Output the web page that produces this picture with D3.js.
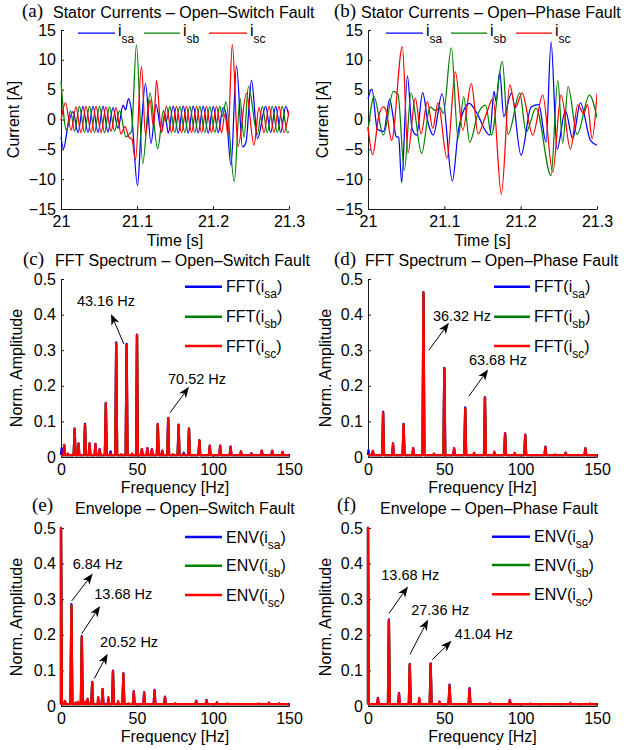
<!DOCTYPE html>
<html>
<head>
<meta charset="utf-8">
<script src="https://cdn.jsdelivr.net/npm/d3@7"></script>
<style>
  body { margin: 0; background: #fff; }
  svg { display: block; background: #fff; }
</style>
</head>
<body>
<svg id="fig" width="624" height="750"></svg>
<script>
// ---------------- tick values ----------------
const timeTicks = [21, 21.1, 21.2, 21.3];
const currentTicks = [-15, -10, -5, 0, 5, 10, 15];
const freqTicks = [0, 50, 100, 150];
const ampTicks = [0, 0.1, 0.2, 0.3, 0.4, 0.5];

// ---------------- stator currents, open-switch fault [t (s), i (A)] ----------------
const switchIsa = [[21.0000,-2.9],[21.0033,-4.9],[21.0092,-1.0],[21.0158,1.3],[21.0224,-2.2],[21.0289,2.2],[21.0355,-2.2],[21.0421,2.2],[21.0487,-2.2],[21.0553,2.2],[21.0618,-2.1],[21.0684,2.0],[21.0750,-1.5],[21.0816,2.4],[21.0849,1.6],[21.0888,3.5],[21.0921,2.0],[21.1007,-11.1],[21.1053,-2.0],[21.1112,6.0],[21.1184,-4.0],[21.1250,2.5],[21.1322,-2.0],[21.1368,1.0],[21.1411,-2.3],[21.1476,2.3],[21.1542,-2.3],[21.1608,2.3],[21.1674,-2.3],[21.1739,2.3],[21.1805,-2.3],[21.1871,2.3],[21.1937,-2.3],[21.2003,2.2],[21.2068,-2.2],[21.2134,2.0],[21.2171,1.0],[21.2237,-7.7],[21.2309,9.0],[21.2388,-4.6],[21.2434,-3.8],[21.2507,6.6],[21.2586,-3.2],[21.2693,2.2],[21.2759,-2.2],[21.2825,2.2],[21.2891,-2.2],[21.2957,2.2],[21.3000,0.5]];
const switchIsb = [[21.0000,6.4],[21.0072,-1.8],[21.0125,1.5],[21.0178,-2.0],[21.0243,2.2],[21.0309,-2.2],[21.0375,2.2],[21.0441,-2.2],[21.0507,2.2],[21.0572,-2.2],[21.0638,2.1],[21.0704,-2.0],[21.0770,1.5],[21.0855,-2.9],[21.0901,-2.4],[21.0928,-2.0],[21.0993,12.5],[21.1075,-7.4],[21.1171,4.4],[21.1272,-4.9],[21.1349,1.5],[21.1382,-0.5],[21.1432,2.2],[21.1497,-2.2],[21.1563,2.2],[21.1629,-2.2],[21.1695,2.2],[21.1761,-2.2],[21.1826,2.2],[21.1892,-2.2],[21.1958,2.2],[21.2024,-2.2],[21.2089,2.2],[21.2125,0.5],[21.2171,3.0],[21.2280,-10.4],[21.2355,3.6],[21.2408,-3.0],[21.2467,5.6],[21.2583,-2.5],[21.2649,2.2],[21.2714,-2.2],[21.2780,2.2],[21.2846,-2.2],[21.2912,2.2],[21.2978,-2.2],[21.3000,-2.0]];
const switchIsc = [[21.0000,-0.2],[21.0059,2.8],[21.0132,-1.8],[21.0197,2.1],[21.0263,-2.2],[21.0329,2.2],[21.0395,-2.2],[21.0461,2.2],[21.0526,-2.2],[21.0592,2.1],[21.0658,-2.0],[21.0724,2.0],[21.0789,-2.4],[21.0842,-1.2],[21.0895,-3.0],[21.0934,-3.3],[21.0980,-6.8],[21.1059,8.9],[21.1112,-2.6],[21.1171,3.3],[21.1217,-1.2],[21.1257,6.5],[21.1322,-2.2],[21.1388,2.2],[21.1454,-2.2],[21.1520,2.2],[21.1586,-2.2],[21.1651,2.2],[21.1717,-2.2],[21.1783,2.2],[21.1849,-2.2],[21.1914,2.2],[21.1980,-2.2],[21.2046,2.2],[21.2112,-2.2],[21.2158,1.0],[21.2197,-2.6],[21.2254,12.6],[21.2329,-4.5],[21.2441,4.4],[21.2539,-4.3],[21.2605,2.0],[21.2671,-2.2],[21.2737,2.2],[21.2803,-2.2],[21.2868,2.2],[21.2934,-2.2],[21.3000,1.5]];

// ---------------- stator currents, open-phase fault [t (s), i (A)] ----------------
const phaseIsa = [[21.0000,3.5],[21.0052,5.1],[21.0122,-1.6],[21.0205,-2.0],[21.0284,3.4],[21.0328,0.5],[21.0367,-2.8],[21.0402,-3.0],[21.0441,-10.6],[21.0516,7.3],[21.0577,-1.5],[21.0638,-2.6],[21.0716,4.5],[21.0786,-0.5],[21.0856,-2.6],[21.0970,4.3],[21.1105,-10.3],[21.1188,-1.5],[21.1328,2.7],[21.1407,1.5],[21.1595,-2.6],[21.1651,4.7],[21.1678,3.0],[21.1726,8.0],[21.1778,0.5],[21.1879,4.4],[21.2005,-6.0],[21.2136,2.1],[21.2237,2.5],[21.2333,-3.8],[21.2398,13.0],[21.2477,-5.0],[21.2586,1.5],[21.2682,-3.2],[21.2783,2.8],[21.2914,-3.5],[21.3000,-4.3]];
const phaseIsb = [[21.0000,-2.0],[21.0079,3.8],[21.0201,-2.6],[21.0332,4.7],[21.0393,4.2],[21.0476,-8.5],[21.0564,4.4],[21.0703,-5.7],[21.0813,2.1],[21.0882,1.5],[21.0944,2.0],[21.0987,1.0],[21.1092,12.0],[21.1180,-3.2],[21.1254,3.8],[21.1332,-3.8],[21.1442,1.0],[21.1542,2.4],[21.1616,-2.6],[21.1761,9.7],[21.1835,-2.5],[21.1988,4.4],[21.2071,-2.1],[21.2202,1.9],[21.2398,-9.4],[21.2486,6.5],[21.2551,-4.0],[21.2621,5.5],[21.2739,-2.5],[21.2901,4.1],[21.3000,0.3]];
const phaseIsc = [[21.0000,-1.2],[21.0061,-5.9],[21.0140,0.5],[21.0201,2.1],[21.0236,1.5],[21.0310,-3.5],[21.0450,12.2],[21.0524,-5.6],[21.0620,3.6],[21.0695,-2.4],[21.0778,3.0],[21.0848,-1.5],[21.0917,2.8],[21.1035,-6.5],[21.1145,8.0],[21.1241,-1.8],[21.1354,6.0],[21.1442,-2.4],[21.1538,0.5],[21.1638,3.5],[21.1747,-12.5],[21.1857,5.8],[21.1931,2.0],[21.2018,4.4],[21.2158,-2.6],[21.2289,4.1],[21.2420,-8.8],[21.2529,4.1],[21.2652,-5.0],[21.2748,2.4],[21.2827,1.0],[21.2875,2.5],[21.2936,-3.2],[21.3000,4.3]];

// ---------------- FFT spectra, open-switch fault [f (Hz), normalised amplitude] ----------------
const fftSwitchSa = [[0.4,0.024],[2.12,0.034],[8.96,0.080],[11.5,0.038],[15.8,0.093],[18.8,0.038],[22.64,0.037],[25.4,0.022],[29.48,0.152],[32.6,0.016],[36.32,0.322],[43.16,0.318],[50.0,0.344],[53.2,0.022],[56.84,0.025],[59.8,0.022],[63.68,0.093],[66.6,0.018],[70.52,0.110],[77.36,0.091],[80.8,0.012],[84.2,0.080],[91.04,0.047],[97.88,0.032],[104.72,0.032],[111.56,0.029],[118.4,0.016],[125.24,0.011],[132.08,0.018],[138.92,0.018],[145.76,0.014]];
const fftSwitchSb = [[8.96,0.077],[15.8,0.089],[29.48,0.150],[36.32,0.318],[43.16,0.314],[50.0,0.342],[63.68,0.091],[70.52,0.108],[77.36,0.089],[84.2,0.078],[91.04,0.045]];
const fftSwitchSc = [[2.12,0.034],[4.5,0.010],[8.96,0.078],[11.5,0.038],[15.8,0.090],[18.8,0.038],[22.64,0.037],[25.4,0.022],[29.48,0.151],[32.6,0.010],[36.32,0.319],[39.6,0.008],[43.16,0.315],[46.6,0.010],[50.0,0.343],[53.2,0.022],[56.84,0.025],[59.8,0.022],[63.68,0.092],[66.6,0.018],[70.52,0.109],[73.6,0.008],[77.36,0.090],[80.8,0.008],[84.2,0.079],[87.5,0.006],[91.04,0.046],[97.88,0.032],[104.72,0.032],[111.56,0.029],[118.4,0.015],[125.24,0.010],[132.08,0.018],[138.92,0.018],[145.76,0.014]];

// ---------------- FFT spectra, open-phase fault ----------------
const fftPhaseSa = [[0.3,0.019],[3.2,0.017],[9.9,0.127],[16.4,0.038],[23.3,0.093],[29.6,0.025],[36.32,0.463],[50.0,0.250],[56.4,0.025],[63.68,0.139],[76.6,0.168],[89.8,0.067],[103.0,0.063],[116.2,0.029],[129.5,0.012],[142.4,0.025]];
const fftPhaseSb = [[9.9,0.122],[23.3,0.089],[36.32,0.460],[50.0,0.247],[63.68,0.134],[76.6,0.165],[89.8,0.064],[103.0,0.060]];
const fftPhaseSc = [[0.5,0.006],[3.2,0.017],[9.9,0.124],[16.4,0.038],[23.3,0.091],[29.6,0.025],[36.32,0.462],[43.2,0.010],[50.0,0.249],[56.4,0.025],[63.68,0.136],[69.5,0.012],[76.6,0.167],[82.8,0.015],[89.8,0.066],[96.1,0.012],[103.0,0.062],[109.5,0.005],[116.2,0.028],[122.6,0.007],[129.5,0.012],[136.0,0.005],[142.4,0.024],[148.6,0.004]];

// ---------------- envelope spectra, open-switch fault ----------------
const envSwitchSa = [[0,0.5],[2.6,0.014],[6.84,0.286],[13.68,0.196],[17.5,0.020],[20.52,0.068],[27.36,0.048],[34.2,0.099],[41.04,0.092],[47.88,0.042],[54.72,0.039],[61.56,0.045],[68.4,0.026],[88.92,0.015],[95.76,0.017]];
const envSwitchSb = [[0,0.5],[6.84,0.280],[13.68,0.192],[20.52,0.065],[34.2,0.096],[41.04,0.089]];
const envSwitchSc = [[0,0.5],[2.6,0.014],[6.84,0.283],[9.5,0.010],[11.2,0.012],[13.68,0.194],[16.0,0.012],[17.5,0.020],[20.52,0.067],[24.5,0.025],[27.36,0.047],[31.2,0.025],[34.2,0.098],[37.6,0.014],[41.04,0.091],[44.5,0.008],[47.88,0.041],[54.72,0.037],[61.56,0.044],[68.4,0.025],[75.24,0.008],[82.08,0.006],[88.92,0.014],[95.76,0.016],[102.6,0.011],[109.44,0.007],[116.28,0.006],[123.12,0.005],[129.96,0.007],[136.8,0.010],[143.64,0.008]];

// ---------------- envelope spectra, open-phase fault ----------------
const envPhaseSa = [[0,0.5],[6.5,0.023],[13.68,0.243],[20.3,0.037],[27.36,0.118],[41.04,0.120],[53.4,0.060],[66.5,0.050],[92.9,0.017]];
const envPhaseSb = [[0,0.5],[13.68,0.239],[27.36,0.115],[41.04,0.117],[53.4,0.056]];
const envPhaseSc = [[0,0.5],[6.5,0.021],[13.68,0.241],[20.3,0.035],[27.36,0.117],[33.6,0.023],[41.04,0.119],[46.8,0.013],[53.4,0.058],[60.0,0.006],[66.5,0.049],[73.0,0.005],[79.8,0.009],[86.3,0.005],[92.9,0.016],[99.5,0.004],[106.4,0.007],[113.0,0.004],[119.5,0.005],[126.0,0.004],[132.5,0.009],[139.0,0.004],[145.6,0.007]];

// noise floor of the spectra
const spectrumFloor = 0.005;

// annotations: [label, text f, text amp, arrow tail f, tail amp, arrow head f, head amp]
const switchFftNotes = [["43.16 Hz",10.5,0.425,41.4,0.317,32.9,0.402],["70.52 Hz",70.4,0.205,71.7,0.124,84.2,0.197]];
const phaseFftNotes  = [["36.32 Hz",42.5,0.382,39.9,0.300,53.0,0.377],["63.68 Hz",66.1,0.258,66.1,0.171,78.7,0.246]];
const switchEnvNotes = [["6.84 Hz",7.7,0.386,7.0,0.295,20.9,0.372],["13.68 Hz",21.9,0.300,13.6,0.203,25.7,0.281],["20.52 Hz",25.7,0.166,21.9,0.077,30.7,0.147]];
const phaseEnvNotes  = [["13.68 Hz",8.7,0.353,13.7,0.260,26.2,0.336],["27.36 Hz",28.3,0.257,27.5,0.145,39.4,0.243],["41.04 Hz",56.9,0.189,42.1,0.130,54.7,0.183]];

const phaseSubs = ["sa", "sb", "sc"];

// ---------------- styling ----------------
const SANS = "'Liberation Sans', Arial, Helvetica, sans-serif";
const SERIF = "'Liberation Serif', 'Times New Roman', serif";
const COLORS = ["#0000ff", "#008000", "#ff0000"];
const FS = 16;

const svg = d3.select("#fig");
const LEFT = [61, 289], RIGHT = [368, 597];
const ROW1 = [30, 209], ROW2 = [279, 457], ROW3 = [528, 706];
const fmt = d3.format("~g");
let clipCount = 0;

function frame(cols, rows, xDomain, yDomain, xTicks, yTicks) {
  const g = svg.append("g");
  const x = d3.scaleLinear().domain(xDomain).range(cols);
  const y = d3.scaleLinear().domain(yDomain).range([rows[1], rows[0]]);
  const xa = d3.axisBottom(x).tickValues(xTicks).tickFormat(fmt)
    .tickSizeInner(-3).tickSizeOuter(0).tickPadding(7);
  const ya = d3.axisLeft(y).tickValues(yTicks).tickFormat(fmt)
    .tickSizeInner(-3).tickSizeOuter(0).tickPadding(5);
  const gx = g.append("g").attr("transform", `translate(0,${rows[1]})`).call(xa);
  const gy = g.append("g").attr("transform", `translate(${cols[0]},0)`).call(ya);
  [gx, gy].forEach(a => {
    a.attr("font-size", null).attr("font-family", null);
    a.selectAll("text").attr("font-size", FS).attr("font-family", SANS).attr("fill", "#000");
    a.select(".domain").attr("stroke", "#1a1a1a").attr("stroke-width", 1);
    a.selectAll(".tick line").attr("stroke", "#1a1a1a");
  });
  const id = "clip" + (clipCount++);
  svg.append("clipPath").attr("id", id).append("rect")
    .attr("x", cols[0] - 2).attr("y", rows[0] - 2)
    .attr("width", cols[1] - cols[0] + 2).attr("height", rows[1] - rows[0] + 4);
  const plot = g.append("g").attr("clip-path", `url(#${id})`);
  return { g, x, y, plot };
}

function heading(letter, lx, ly, title, tx, ty) {
  svg.append("text").attr("x", lx).attr("y", ly).attr("font-family", SERIF)
    .attr("font-size", 19).text(letter);
  svg.append("text").attr("x", tx).attr("y", ty).attr("font-family", SANS)
    .attr("font-size", FS).text(title);
}

function xLabel(cols, y, label) {
  svg.append("text").attr("x", (cols[0] + cols[1]) / 2).attr("y", y)
    .attr("text-anchor", "middle").attr("font-family", SANS).attr("font-size", FS).text(label);
}

function yLabel(x, rows, label) {
  svg.append("text").attr("transform", `translate(${x},${(rows[0] + rows[1]) / 2}) rotate(-90)`)
    .attr("text-anchor", "middle").attr("font-family", SANS).attr("font-size", FS).text(label);
}

function timeSeries(p, series) {
  const line = d3.line().x(d => p.x(d[0])).y(d => p.y(d[1])).curve(d3.curveMonotoneX);
  series.forEach((s, i) => {
    p.plot.append("path").attr("d", line(s)).attr("fill", "none")
      .attr("stroke", COLORS[i]).attr("stroke-width", 1.25).attr("stroke-linejoin", "round");
  });
}

function spectrum(p, series, fmax) {
  const hw = 0.6;
  const line = d3.line().x(d => p.x(d[0])).y(d => p.y(d[1]));
  series.forEach((peaks, i) => {
    const pts = [[0, spectrumFloor]];
    peaks.forEach(([f, a]) => {
      if (f - hw > 0) pts.push([f - hw, spectrumFloor]);
      pts.push([f, a]);
      pts.push([f + hw, spectrumFloor]);
    });
    pts.push([fmax, spectrumFloor]);
    p.plot.append("path").attr("d", line(pts)).attr("fill", "none")
      .attr("stroke", COLORS[i]).attr("stroke-width", 2.3).attr("stroke-linejoin", "round");
  });
}

function timeLegend(items, y) {
  items.forEach(([x0, x1], i) => {
    svg.append("line").attr("x1", x0).attr("x2", x1).attr("y1", y).attr("y2", y)
      .attr("stroke", COLORS[i]).attr("stroke-width", 1.25);
    const t = svg.append("text").attr("x", x1 + 3).attr("y", y + 3)
      .attr("font-family", SANS).attr("font-size", FS);
    t.append("tspan").text("i");
    t.append("tspan").attr("font-size", 12).attr("dy", 7).text(phaseSubs[i]);
  });
}

function spectrumLegend(prefix, x0, x1, ys) {
  ys.forEach((y, i) => {
    svg.append("line").attr("x1", x0).attr("x2", x1).attr("y1", y).attr("y2", y)
      .attr("stroke", COLORS[i]).attr("stroke-width", 2.5);
    const t = svg.append("text").attr("x", x1 + 4).attr("y", y + 5.5)
      .attr("font-family", SANS).attr("font-size", FS);
    t.append("tspan").text(prefix + "(i");
    t.append("tspan").attr("font-size", 12).attr("dy", 6).text(phaseSubs[i]);
    t.append("tspan").attr("dy", -6).text(")");
  });
}

function arrow(g, x1, y1, x2, y2) {
  const dx = x2 - x1, dy = y2 - y1, len = Math.hypot(dx, dy);
  const ux = dx / len, uy = dy / len, px = -uy, py = ux;
  const L = 11, W = 4.2, N = 8;
  g.append("line").attr("x1", x1).attr("y1", y1)
    .attr("x2", x2 - ux * N).attr("y2", y2 - uy * N)
    .attr("stroke", "#000").attr("stroke-width", 1);
  const bx = x2 - ux * L, by = y2 - uy * L;
  const pts = [[x2, y2], [bx + px * W, by + py * W], [x2 - ux * N, y2 - uy * N], [bx - px * W, by - py * W]];
  g.append("path").attr("d", "M" + pts.map(q => q.join(",")).join("L") + "Z").attr("fill", "#000");
}

function notes(p, list) {
  list.forEach(([label, tf, ta, f1, a1, f2, a2]) => {
    svg.append("text").attr("x", p.x(tf)).attr("y", p.y(ta))
      .attr("font-family", SANS).attr("font-size", 14.5).text(label);
    arrow(svg, p.x(f1), p.y(a1), p.x(f2), p.y(a2));
  });
}

// ---------------- (a) ----------------
const pa = frame(LEFT, ROW1, [21, 21.3], [-15, 15], timeTicks, currentTicks);
timeSeries(pa, [switchIsa, switchIsb, switchIsc]);
heading("(a)", 22, 17, "Stator Currents – Open–Switch Fault", 53, 17.5);
xLabel(LEFT, 246, "Time [s]");
yLabel(18.5, ROW1, "Current [A]");
timeLegend([[78, 115], [144, 180], [209, 247]], 33);

// ---------------- (b) ----------------
const pb = frame(RIGHT, ROW1, [21, 21.3], [-15, 15], timeTicks, currentTicks);
timeSeries(pb, [phaseIsa, phaseIsb, phaseIsc]);
heading("(b)", 334, 17, "Stator Currents – Open–Phase Fault", 361, 17.5);
xLabel(RIGHT, 246, "Time [s]");
yLabel(328, ROW1, "Current [A]");
timeLegend([[386, 423], [451, 487], [516, 552]], 33);

// ---------------- (c) ----------------
const pc = frame(LEFT, ROW2, [0, 150], [0, 0.5], freqTicks, ampTicks);
spectrum(pc, [fftSwitchSa, fftSwitchSb, fftSwitchSc], 150);
heading("(c)", 23, 265, "FFT Spectrum – Open–Switch Fault", 55, 266);
xLabel(LEFT, 493, "Frequency [Hz]");
yLabel(22, ROW2, "Norm. Amplitude");
spectrumLegend("FFT", 185, 222, [286.7, 316.7, 346]);
notes(pc, switchFftNotes);

// ---------------- (d) ----------------
const pd = frame(RIGHT, ROW2, [0, 150], [0, 0.5], freqTicks, ampTicks);
spectrum(pd, [fftPhaseSa, fftPhaseSb, fftPhaseSc], 150);
heading("(d)", 334, 265, "FFT Spectrum – Open–Phase Fault", 365, 266);
xLabel(RIGHT, 493, "Frequency [Hz]");
yLabel(331, ROW2, "Norm. Amplitude");
spectrumLegend("FFT", 494, 530, [286.7, 316.7, 346]);
notes(pd, phaseFftNotes);

// ---------------- (e) ----------------
const pe = frame(LEFT, ROW3, [0, 150], [0, 0.5], freqTicks, ampTicks);
spectrum(pe, [envSwitchSa, envSwitchSb, envSwitchSc], 150);
heading("(e)", 32, 510.5, "Envelope – Open–Switch Fault", 75, 514.3);
xLabel(LEFT, 742, "Frequency [Hz]");
yLabel(22, ROW3, "Norm. Amplitude");
spectrumLegend("ENV", 185, 222, [537, 565.7, 595]);
notes(pe, switchEnvNotes);

// ---------------- (f) ----------------
const pf = frame(RIGHT, ROW3, [0, 150], [0, 0.5], freqTicks, ampTicks);
spectrum(pf, [envPhaseSa, envPhaseSb, envPhaseSc], 150);
heading("(f)", 337, 510.5, "Envelope – Open–Phase Fault", 380, 514.3);
xLabel(RIGHT, 742, "Frequency [Hz]");
yLabel(331, ROW3, "Norm. Amplitude");
spectrumLegend("ENV", 492, 530, [536.7, 565, 594.3]);
notes(pf, phaseEnvNotes);
</script>
</body>
</html>
